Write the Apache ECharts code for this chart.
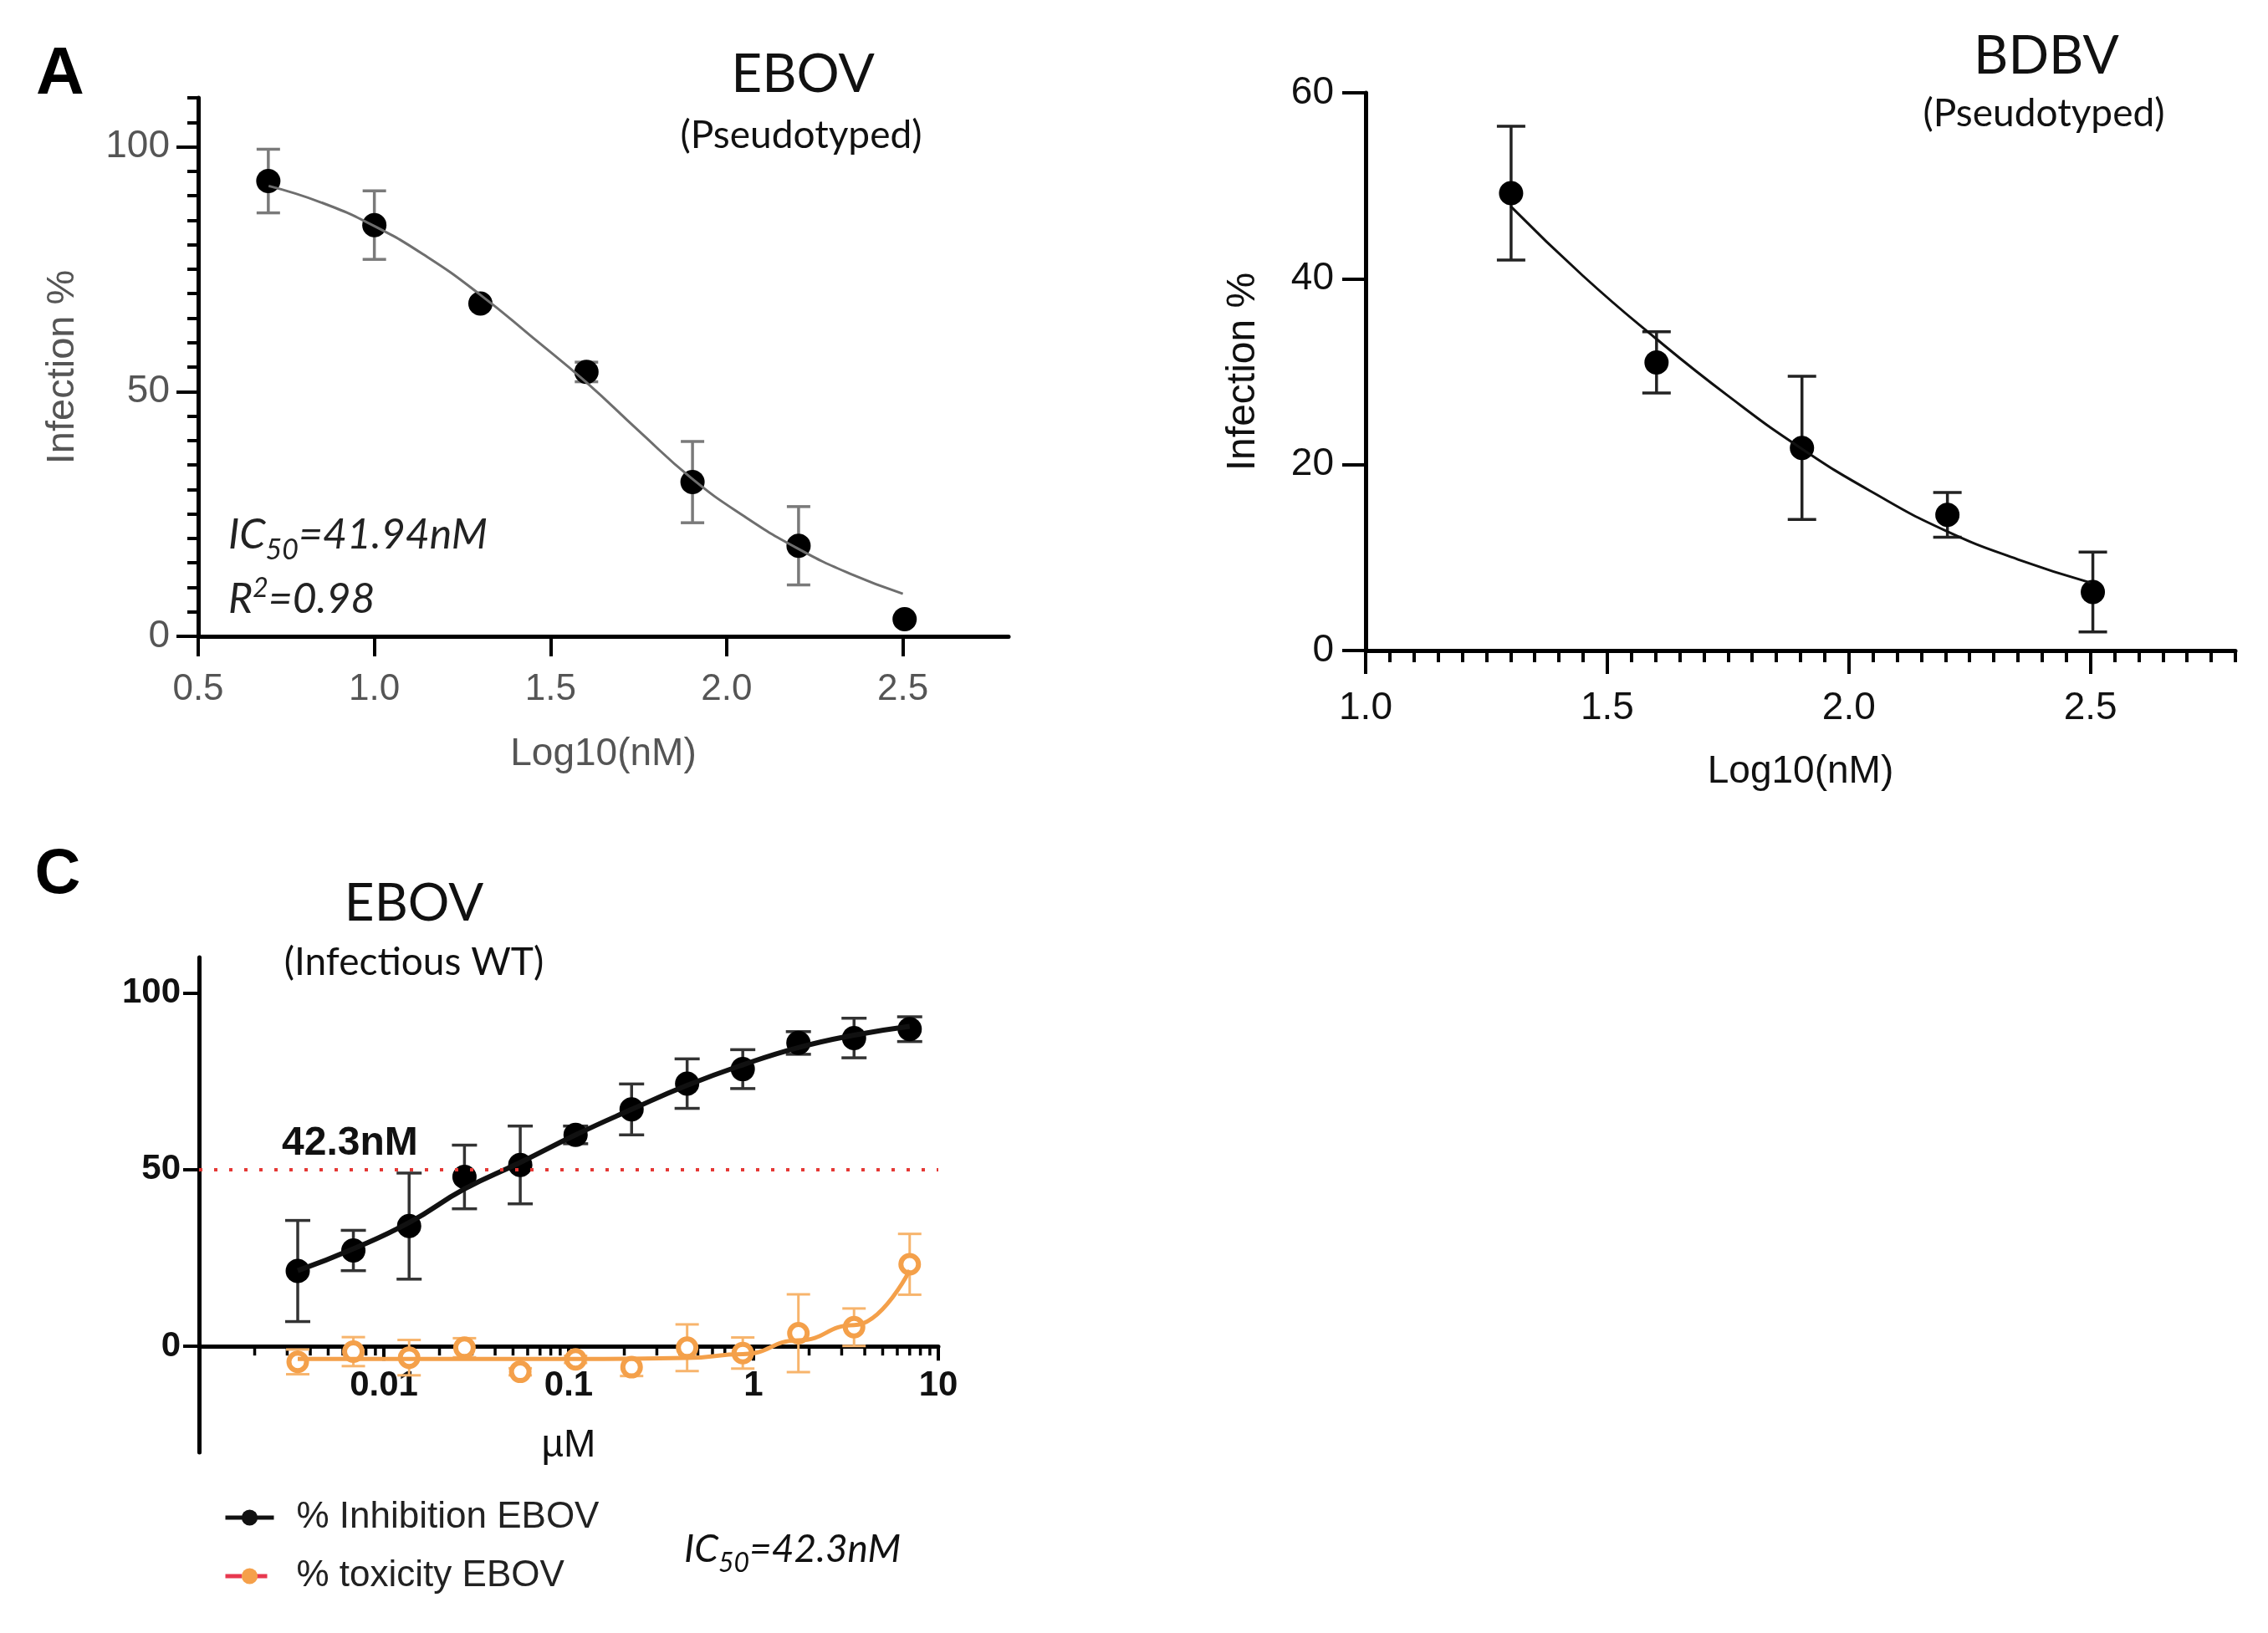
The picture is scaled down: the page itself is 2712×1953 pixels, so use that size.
<!DOCTYPE html>
<html>
<head>
<meta charset="utf-8">
<title>EBOV / BDBV dose response</title>
<script src="https://cdn.jsdelivr.net/npm/echarts@6/dist/echarts.min.js"></script>
<style>
  html, body { margin: 0; padding: 0; background: #fff; }
  #chart { width: 2712px; height: 1953px; }
</style>
</head>
<body>
<div id="chart"></div>
<script>
// A: EBOV (pseudotyped), x = log10(nM)
const aDose = [0.699, 1.0, 1.301, 1.602, 1.903, 2.204, 2.505];
const aMean = [93, 84, 68, 54, 31.5, 18.5, 3.5];
const aErr  = [6.5, 7, 0, 2, 8.3, 8, 0];
const aFitX = [0.7, 0.85, 1.0, 1.15, 1.3, 1.45, 1.6, 1.75, 1.9, 2.05, 2.2, 2.35, 2.5];
const aFitY = [92, 88.6, 83.8, 77.5, 69.8, 61, 52, 42, 32.3, 24.5, 18, 12.8, 8.7];

// BDBV (pseudotyped)
const bDose = [1.301, 1.602, 1.903, 2.204, 2.505];
const bMean = [49.2, 31, 21.8, 14.6, 6.3];
const bErr  = [7.2, 3.3, 7.7, 2.4, 4.3];
const bFitX = [1.3, 1.45, 1.6, 1.75, 1.9, 2.05, 2.2, 2.35, 2.5];
const bFitY = [47.8, 40.3, 33.6, 27.4, 21.8, 17, 12.9, 9.8, 7.3];

// C: EBOV (infectious WT), x in µM
const cConc   = [0.00342, 0.00684, 0.0137, 0.0273, 0.0547, 0.109, 0.219, 0.4375, 0.875, 1.75, 3.5, 7];
const inhMean = [21.3, 27.1, 34, 47.9, 51.3, 59.8, 67, 74.3, 78.4, 85.8, 87.2, 89.7];
const inhErr  = [14.3, 5.7, 15, 9, 11, 2.5, 7.2, 7, 5.5, 3.2, 5.6, 3.5];
const inhFit  = [21.4, 27.6, 35, 44.5, 52, 59.8, 67, 73.8, 79.6, 84.5, 88, 90.5];
const toxMean = [-4.4, -1.5, -3.2, -0.4, -7.2, -3.7, -5.9, -0.4, -1.9, 3.7, 5.4, 23.2];
const toxErr  = [3.5, 4.1, 5, 2.7, 1, 1, 2.5, 6.6, 4.4, 11, 5.3, 8.6];
const toxFit  = [-3.6, -3.6, -3.6, -3.6, -3.6, -3.6, -3.5, -3.3, -2.2, 1.7, 6, 21.5];
const halfLine = 50;

// tick labels
const aXTicks = [0.5, 1.0, 1.5, 2.0, 2.5];
const aYTicks = [0, 50, 100];
const bXTicks = [1.0, 1.5, 2.0, 2.5];
const cYTicks = [0, 50, 100];
const cYMin = -30, cYMax = 110;

// minor tick positions
const aYMinor = [];
for (let v = 5; v <= 110; v += 5) aYMinor.push(v);
const bXMinor = [];
for (let i = 21; i <= 56; i++) bXMinor.push(i / 20);
const cXMinor = [];
[0.001, 0.01, 0.1, 1].forEach(d => { for (let k = 2; k <= 9; k++) cXMinor.push(+(d * k).toPrecision(2)); });

const zip = (xs, ys) => xs.map((x, i) => [x, ys[i]]);
const errData = (xs, m, e) => xs.map((x, i) => [x, m[i] - e[i], m[i] + e[i]]);

function errorBar(cap, color, width) {
  return function (params, api) {
    const x = api.value(0);
    if (api.value(2) - api.value(1) < 0.01) return null;
    const lo = api.coord([x, api.value(1)]);
    const hi = api.coord([x, api.value(2)]);
    const s = { stroke: color, lineWidth: width };
    return { type: 'group', children: [
      { type: 'line', shape: { x1: lo[0], y1: lo[1], x2: hi[0], y2: hi[1] }, style: s },
      { type: 'line', shape: { x1: lo[0] - cap / 2, y1: lo[1], x2: lo[0] + cap / 2, y2: lo[1] }, style: s },
      { type: 'line', shape: { x1: hi[0] - cap / 2, y1: hi[1], x2: hi[0] + cap / 2, y2: hi[1] }, style: s }
    ]};
  };
}

const AR = 'Liberation Sans';
const GREY = '#555';
const gridC = { left: 238, top: 1145, width: 884, height: 592 };
// lift the C x axis from the grid bottom up to y = 0
const cZeroOffset = -(0 - cYMin) / (cYMax - cYMin) * gridC.height;

const chart = echarts.init(document.getElementById('chart'));
chart.setOption({
  backgroundColor: '#fff',
  animation: false,
  grid: [
    { left: 237, top: 117, width: 969, height: 644 },
    { left: 1633, top: 111, width: 1040, height: 667 },
    gridC
  ],
  xAxis: [
    { gridIndex: 0, type: 'value', min: 0.5, max: 2.8, splitLine: { show: false },
      axisLine: { onZero: false, lineStyle: { color: '#000', width: 5 } },
      axisTick: { customValues: aXTicks, length: 24, lineStyle: { color: '#000', width: 4 } },
      axisLabel: { customValues: aXTicks, formatter: v => v.toFixed(1), margin: 42, fontSize: 44, color: GREY, fontFamily: AR },
      name: 'Log10(nM)', nameLocation: 'middle', nameGap: 118,
      nameTextStyle: { fontSize: 46, color: GREY, fontFamily: AR } },
    { gridIndex: 1, type: 'value', min: 1.0, max: 2.8, splitLine: { show: false },
      axisLine: { onZero: false, lineStyle: { color: '#000', width: 5 } },
      axisTick: { customValues: bXTicks, length: 28, lineStyle: { color: '#000', width: 4 } },
      axisLabel: { customValues: bXTicks, formatter: v => v.toFixed(1), margin: 46, fontSize: 46, color: '#111', fontFamily: AR },
      name: 'Log10(nM)', nameLocation: 'middle', nameGap: 122,
      nameTextStyle: { fontSize: 46, color: '#111', fontFamily: AR } },
    { gridIndex: 1, type: 'value', min: 1.0, max: 2.8, position: 'bottom', splitLine: { show: false },
      axisLine: { show: false, onZero: false }, axisLabel: { show: false },
      axisTick: { customValues: bXMinor, length: 14, lineStyle: { color: '#000', width: 4 } } },
    { gridIndex: 2, type: 'log', logBase: 10, min: 0.001, max: 10, position: 'bottom', offset: cZeroOffset,
      splitLine: { show: false },
      axisLine: { onZero: false, lineStyle: { color: '#000', width: 5 } },
      axisTick: { length: 17, lineStyle: { color: '#000', width: 4 } },
      axisLabel: { interval: 0, margin: 26, fontSize: 42, fontWeight: 'bold', color: '#111', fontFamily: AR,
        formatter: v => (v < 0.005 ? '' : String(+v.toPrecision(2))) },
      name: 'µM', nameLocation: 'middle', nameGap: 96,
      nameTextStyle: { fontSize: 46, color: '#111', fontFamily: AR } }
  ],
  yAxis: [
    { gridIndex: 0, type: 'value', min: 0, max: 110, position: 'left', splitLine: { show: false },
      axisLine: { onZero: false, lineStyle: { color: '#000', width: 5 } },
      axisTick: { customValues: aYTicks, length: 26, lineStyle: { color: '#000', width: 4 } },
      axisLabel: { customValues: aYTicks, margin: 34, fontSize: 46, color: GREY, fontFamily: AR },
      name: 'Infection %', nameLocation: 'middle', nameGap: 138,
      nameTextStyle: { fontSize: 47, color: GREY, fontFamily: AR } },
    { gridIndex: 0, type: 'value', min: 0, max: 110, position: 'left', splitLine: { show: false },
      axisLine: { show: false, onZero: false }, axisLabel: { show: false },
      axisTick: { customValues: aYMinor, length: 13, lineStyle: { color: '#000', width: 4 } } },
    { gridIndex: 1, type: 'value', min: 0, max: 60, interval: 20, splitLine: { show: false },
      axisLine: { onZero: false, lineStyle: { color: '#000', width: 5 } },
      axisTick: { length: 28, lineStyle: { color: '#000', width: 4 } },
      axisLabel: { margin: 38, fontSize: 46, color: '#111', fontFamily: AR },
      name: 'Infection %', nameLocation: 'middle', nameGap: 122,
      nameTextStyle: { fontSize: 48, color: '#111', fontFamily: AR } },
    { gridIndex: 2, type: 'value', min: cYMin, max: cYMax, splitLine: { show: false },
      axisLine: { onZero: false, lineStyle: { color: '#000', width: 5 } },
      axisTick: { customValues: cYTicks, length: 19, lineStyle: { color: '#000', width: 4 } },
      axisLabel: { customValues: cYTicks, margin: 22, fontSize: 42, fontWeight: 'bold', color: '#111', fontFamily: AR } }
  ],
  legend: {
    orient: 'vertical', left: 262, top: 1788, itemWidth: 58, itemHeight: 24, itemGap: 26,
    textStyle: { fontSize: 44, color: '#222', fontFamily: AR, padding: [0, 0, 0, 22] },
    data: [
      { name: '% Inhibition EBOV', itemStyle: { color: '#111' }, lineStyle: { color: '#111', width: 5 } },
      { name: '% toxicity EBOV', itemStyle: { color: '#f5a04a', borderColor: '#f5a04a' },
        lineStyle: { color: '#e8384f', width: 5, type: 'dashed' } }
    ]
  },
  series: [
    // A
    { type: 'line', xAxisIndex: 0, yAxisIndex: 0, data: zip(aFitX, aFitY), smooth: true, symbol: 'none',
      lineStyle: { color: '#6e6e6e', width: 3 }, silent: true },
    { type: 'custom', xAxisIndex: 0, yAxisIndex: 0, data: errData(aDose, aMean, aErr),
      renderItem: errorBar(28, '#7a7a7a', 3.5), silent: true },
    { type: 'scatter', xAxisIndex: 0, yAxisIndex: 0, data: zip(aDose, aMean), symbolSize: 29,
      itemStyle: { color: '#000', opacity: 1 } },
    // BDBV
    { type: 'line', xAxisIndex: 1, yAxisIndex: 2, data: zip(bFitX, bFitY), smooth: true, symbol: 'none',
      lineStyle: { color: '#111', width: 3 }, silent: true },
    { type: 'custom', xAxisIndex: 1, yAxisIndex: 2, data: errData(bDose, bMean, bErr),
      renderItem: errorBar(34, '#222', 3.5), silent: true },
    { type: 'scatter', xAxisIndex: 1, yAxisIndex: 2, data: zip(bDose, bMean), symbolSize: 29,
      itemStyle: { color: '#000', opacity: 1 } },
    // C
    { type: 'custom', xAxisIndex: 3, yAxisIndex: 3, data: cXMinor.map(v => [v, 0]), silent: true,
      renderItem: (params, api) => {
        const p = api.coord([api.value(0), 0]);
        return { type: 'line', shape: { x1: p[0], y1: p[1], x2: p[0], y2: p[1] + 11 },
          style: { stroke: '#000', lineWidth: 3.5 } };
      } },
    { name: '% Inhibition EBOV', type: 'line', xAxisIndex: 3, yAxisIndex: 3, data: zip(cConc, inhFit),
      smooth: true, symbol: 'circle', showSymbol: false, lineStyle: { color: '#111', width: 6 },
      itemStyle: { color: '#111' },
      markLine: { silent: true, symbol: 'none', label: { show: false },
        lineStyle: { color: '#e53935', width: 4, type: [4, 14] }, data: [{ yAxis: halfLine }] } },
    { type: 'custom', xAxisIndex: 3, yAxisIndex: 3, data: errData(cConc, inhMean, inhErr),
      renderItem: errorBar(30, '#333', 3.5), silent: true },
    { type: 'scatter', xAxisIndex: 3, yAxisIndex: 3, data: zip(cConc, inhMean), symbolSize: 29,
      itemStyle: { color: '#000', opacity: 1 } },
    { name: '% toxicity EBOV', type: 'line', xAxisIndex: 3, yAxisIndex: 3, data: zip(cConc, toxFit),
      smooth: true, smoothMonotone: 'x', symbol: 'circle', showSymbol: false,
      lineStyle: { color: '#f4a04a', width: 5 }, itemStyle: { color: '#f4a04a' } },
    { type: 'custom', xAxisIndex: 3, yAxisIndex: 3, data: errData(cConc, toxMean, toxErr),
      renderItem: errorBar(28, '#f7b46c', 3), silent: true },
    { type: 'scatter', xAxisIndex: 3, yAxisIndex: 3, data: zip(cConc, toxMean), symbol: 'circle', symbolSize: 21,
      itemStyle: { color: '#fff', borderColor: '#f4a04a', borderWidth: 6, opacity: 1 } }
  ],
  graphic: [
    { type: 'text', x: 72, y: 90, style: { text: 'A', fontSize: 80, fontWeight: 'bold', fontFamily: AR, fill: '#000', align: 'center', verticalAlign: 'middle' } },
    { type: 'text', x: 69, y: 1047, style: { text: 'C', fontSize: 76, fontWeight: 'bold', fontFamily: AR, fill: '#000', align: 'center', verticalAlign: 'middle' } },
    { type: 'text', x: 960, y: 89, style: { text: 'EBOV', fontSize: 64, fontFamily: 'Lato', fill: '#111', align: 'center', verticalAlign: 'middle' } },
    { type: 'text', x: 958, y: 162, style: { text: '(Pseudotyped)', fontSize: 46, fontFamily: 'Lato', fill: '#111', align: 'center', verticalAlign: 'middle' } },
    { type: 'text', x: 2447, y: 67, style: { text: 'BDBV', fontSize: 64, fontFamily: 'Lato', fill: '#111', align: 'center', verticalAlign: 'middle' } },
    { type: 'text', x: 2444, y: 136, style: { text: '(Pseudotyped)', fontSize: 46, fontFamily: 'Lato', fill: '#111', align: 'center', verticalAlign: 'middle' } },
    { type: 'text', x: 495, y: 1081, style: { text: 'EBOV', fontSize: 62, fontFamily: 'Lato', fill: '#111', align: 'center', verticalAlign: 'middle' } },
    { type: 'text', x: 495, y: 1151, style: { text: '(Infectious WT)', fontSize: 46, fontFamily: 'Lato', fill: '#111', align: 'center', verticalAlign: 'middle' } },
    { type: 'text', x: 273, y: 645, style: { text: '{m|IC}{s|50}{m|=41.94nM}', align: 'left', verticalAlign: 'middle',
      rich: { m: { fontSize: 50, fontStyle: 'italic', fontFamily: 'Lato', fill: '#222', padding: [0, 0, 10, 0], verticalAlign: 'bottom' },
              s: { fontSize: 34, fontStyle: 'italic', fontFamily: 'Lato', fill: '#222', verticalAlign: 'bottom' } } } },
    { type: 'text', x: 273, y: 715, style: { text: '{m|R}{p|2}{m|=0.98}', align: 'left', verticalAlign: 'middle',
      rich: { m: { fontSize: 50, fontStyle: 'italic', fontFamily: 'Lato', fill: '#222', verticalAlign: 'bottom' },
              p: { fontSize: 32, fontStyle: 'italic', fontFamily: 'Lato', fill: '#222', padding: [0, 0, 22, 0], verticalAlign: 'bottom' } } } },
    { type: 'text', x: 337, y: 1368, style: { text: '42.3nM', fontSize: 48, fontWeight: 'bold', fontFamily: AR, fill: '#111', align: 'left', verticalAlign: 'middle' } },
    { type: 'text', x: 818, y: 1858, style: { text: '{m|IC}{s|50}{m|=42.3nM}', align: 'left', verticalAlign: 'middle',
      rich: { m: { fontSize: 46, fontStyle: 'italic', fontFamily: 'Lato', fill: '#111', padding: [0, 0, 9, 0], verticalAlign: 'bottom' },
              s: { fontSize: 32, fontStyle: 'italic', fontFamily: 'Lato', fill: '#111', verticalAlign: 'bottom' } } } }
  ]
});
</script>
</body>
</html>
